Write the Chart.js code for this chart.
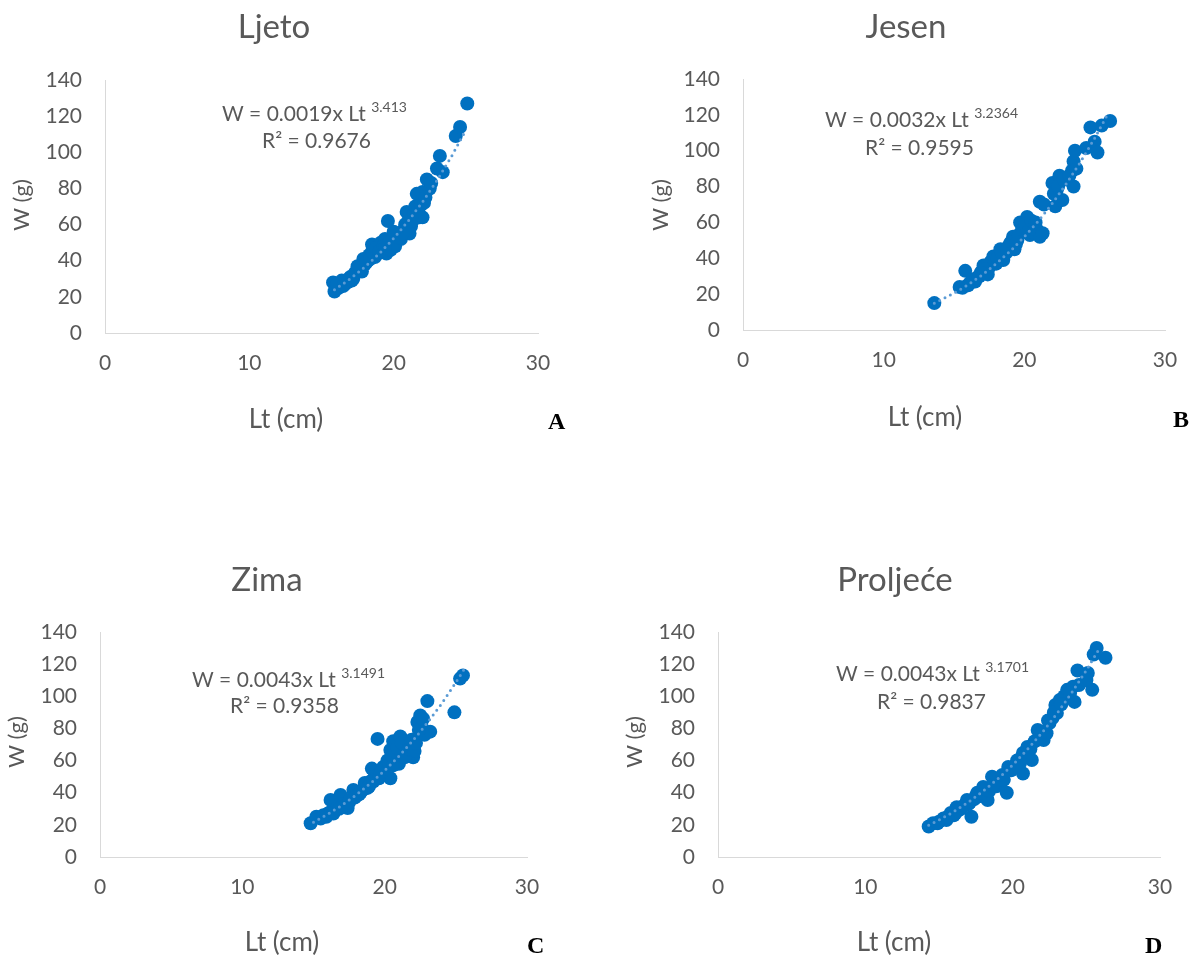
<!DOCTYPE html>
<html>
<head>
<meta charset="utf-8">
<script src="https://cdn.jsdelivr.net/npm/chart.js@4.4.1/dist/chart.umd.min.js"></script>
<style>
  html, body { margin: 0; padding: 0; background: #fff; }
  body { width: 1199px; height: 961px; position: relative; overflow: hidden; }
  canvas { position: absolute; }
  .lbl { position: absolute; font-family: "Liberation Serif", "DejaVu Serif", serif; font-weight: bold; font-size: 24px; color: #000; }
</style>
</head>
<body>
<canvas id="cA" width="600" height="470" style="left:0;top:0"></canvas>
<canvas id="cB" width="599" height="470" style="left:600px;top:0"></canvas>
<canvas id="cC" width="600" height="481" style="left:0;top:480px"></canvas>
<canvas id="cD" width="599" height="481" style="left:600px;top:480px"></canvas>
<div class="lbl" style="left:548px;top:408px">A</div>
<div class="lbl" style="left:1173px;top:406px">B</div>
<div class="lbl" style="left:527px;top:932px">C</div>
<div class="lbl" style="left:1145px;top:932px">D</div>
<script>
// ---- data ----
const panelTitles = ["Ljeto", "Jesen", "Zima", "Proljeće"];
const xAxisTitle = "Lt (cm)";
const yAxisTitle = "W (g)";
const xTickValues = [0, 10, 20, 30];
const yTickValues = [0, 20, 40, 60, 80, 100, 120, 140];

const ljetoLt = [15.8,15.9,16.0,16.2,16.4,16.6,16.8,17.0,17.2,17.3,17.5,17.6,17.8,17.9,18.0,18.2,18.3,18.5,18.5,18.7,18.9,19.1,19.2,19.4,19.5,19.6,19.8,19.9,20.0,20.2,20.4,20.5,20.7,20.8,20.9,21.0,21.1,21.2,21.4,21.5,21.6,21.8,22.0,22.0,22.1,22.3,22.5,23.0,23.2,23.4,24.3,24.6,25.1,
  16.1,16.5,16.9,17.1,17.4,17.7,18.1,18.4,18.6,18.8,19.0,19.3,19.7,20.1,20.3,20.6,20.9,21.3,21.7,21.9,22.2,22.6,20.0,19.4];
const ljetoW  = [28,23,26,25,29,27,28,31,30,33,37,35,34,41,38,40,43,49,45,42,44,50,46,52,44,62,46,49,53,51,55,52,57,60,67,62,55,59,66,70,77,64,64,78,72,85,80,91,98,89,109,114,127,
  27,26,30,29,34,36,39,41,44,47,45,48,50,48,53,55,58,62,68,71,75,83,56,47];
const ljetoTrendLt = [15.9,17,18,19,20,21,22,23,24,25];
const ljetoTrendW  = [23.9,30.1,36.5,43.9,52.4,61.9,72.5,84.4,97.6,112.2];

const jesenLt = [13.6,15.4,15.6,15.8,16.1,16.3,16.5,16.8,17.0,17.1,17.3,17.5,17.6,17.8,18.0,18.2,18.3,18.5,18.7,18.9,19.0,19.2,19.3,19.5,19.7,19.8,20.0,20.2,20.4,20.6,20.9,21.1,21.1,21.4,22.0,22.2,22.3,22.5,22.7,23.0,23.4,23.5,23.5,23.6,24.4,24.7,25.0,25.2,25.5,26.1,
  16.0,16.6,17.2,17.4,17.9,18.1,18.4,18.8,19.1,19.4,19.6,19.9,20.1,20.3,20.5,20.8,22.1,22.4,22.8,23.2,23.7,21.3,16.9];
const jesenW  = [15,24,23.5,33,26,28,27,30,33,36,32,35,38,41,37,42,45,39,43,47,48.5,52,45,50,60,55,57,63,53,58,56,52,71.5,70,82,69,78,86,72.5,84,89,94,80,100,101.5,113,105,99,114,116.6,
  25,29,34,31,38,40,43,45,49,48,53,56,59,55,61,60,76,80,84,86,90,54,32];
const jesenTrendLt = [13.6,15,16,17,18,19,20,21,22,23,24,25,25.9];
const jesenTrendW  = [14.9,20.5,25.2,30.7,37.0,44.0,52.0,60.8,70.7,81.8,93.8,107.0,120.0];

const zimaLt = [14.8,15.2,15.5,15.7,16.0,16.2,16.2,16.5,16.7,16.9,17.1,17.4,17.6,17.8,18.0,18.3,18.6,18.8,19.0,19.1,19.3,19.5,19.7,19.9,20.2,20.4,20.4,20.6,20.8,21.0,21.1,21.3,21.5,21.6,21.8,22.0,22.3,22.5,22.6,22.8,23.0,23.2,24.9,25.3,25.5,
  15.9,16.4,16.8,17.2,17.5,17.9,18.2,18.5,18.9,19.2,19.6,19.8,20.0,20.3,20.5,20.7,20.9,21.2,21.4,21.7,21.9,22.1,22.4,22.7,22.2,20.6];
const zimaW  = [21,25,24,26,27,28,35.5,29,31,38.6,33,30.5,36,41.7,38,40,46,43,47,55,50,73.5,52,56,60,49,66.6,72,62,58,75,68,64,65,70,62,84,88,81,76,97,78,90,111,113,
  25,27,30,32,34,37,39,42,44,47,49,53,55,58,63,66,68,71,62,67,73,66,79,86,71,57];
const zimaTrendLt = [15,16,17,18,19,20,21,22,23,24,25,25.6];
const zimaTrendW  = [21.7,26.6,32.2,38.6,45.8,53.8,62.7,72.6,83.5,95.4,108.6,117.0];

const proljeceLt = [14.3,14.6,15.0,15.3,15.5,15.8,16.0,16.2,16.5,16.9,17.0,17.2,17.4,17.6,17.8,18.0,18.3,18.4,18.6,18.9,19.1,19.4,19.6,19.7,20.0,20.3,20.5,20.7,20.7,21.0,21.3,21.5,21.7,22.1,22.3,22.5,22.7,22.9,23.0,23.2,23.5,23.7,24.1,24.2,24.4,25.1,25.4,25.5,25.7,26.3,
  14.9,15.6,16.1,16.3,16.7,17.1,17.5,17.9,18.2,18.7,19.0,19.3,19.9,20.2,20.9,21.2,21.8,22.0,22.4,22.8,23.3,23.9,24.5,25.0,20.5];
const proljeceW  = [19,21,22,24,23,27.4,26,31,30,35.5,33,25,36,40,38,43.6,35.5,41,50,44,46,48,40,56,55,60,58.5,64.7,52,68.5,60.4,72,79,72.8,77,83.4,86.5,94.6,89.6,97.7,100,104,106,96.5,116,114.5,104,126,130,124,
  21,25,27,29,32,34,38,40,42,45,48,51,54,57,62,67,74,78,85,90,95,102,107,110,61];
const proljeceTrendLt = [14.3,15,16,17,18,19,20,21,22,23,24,25,25.8];
const proljeceTrendW  = [19.8,23.0,28.2,34.2,41.0,48.7,57.3,66.9,77.4,89.2,102.1,116.2,128.4];

const eqCoef = ["0.0019", "0.0032", "0.0043", "0.0043"];
const eqExp  = ["3.413", "3.2364", "3.1491", "3.1701"];
const eqR2   = ["0.9676", "0.9595", "0.9358", "0.9837"];

// ---- layout / style ----
const FONT = 'Lato, "Open Sans", sans-serif';
const GREY = '#595959';
const panels = [
  { id:'cA', lt:ljetoLt, w:ljetoW, tlt:ljetoTrendLt, tw:ljetoTrendW,
    area:{left:105, right:538, top:80, bottom:333}, W:600, H:470,
    title:[274,27], ytitle:[22,205], xtitle:[286,420], eq1:[222,114], eq2:[262,141] },
  { id:'cB', lt:jesenLt, w:jesenW, tlt:jesenTrendLt, tw:jesenTrendW,
    area:{left:143, right:565, top:79, bottom:330}, W:599, H:470,
    title:[306,27], ytitle:[61,205], xtitle:[325,418], eq1:[225,120], eq2:[265,148] },
  { id:'cC', lt:zimaLt, w:zimaW, tlt:zimaTrendLt, tw:zimaTrendW,
    area:{left:100, right:527, top:152, bottom:377}, W:600, H:481,
    title:[267,100], ytitle:[17,262], xtitle:[282,463], eq1:[192,200], eq2:[230,226] },
  { id:'cD', lt:proljeceLt, w:proljeceW, tlt:proljeceTrendLt, tw:proljeceTrendW,
    area:{left:118, right:560, top:152, bottom:377}, W:599, H:481,
    title:[295,100], ytitle:[35,262], xtitle:[294,463], eq1:[236,194], eq2:[277,222] }
];

const textPlugin = {
  id: 'panelText',
  afterDraw(chart, args, opts) {
    const c = chart.ctx;
    c.save();
    c.fillStyle = GREY;
    c.textBaseline = 'middle';
    // title
    c.font = '33px ' + FONT;
    c.textAlign = 'center';
    c.fillText(opts.title, opts.p.title[0], opts.p.title[1]);
    // x title
    c.font = '26px ' + FONT;
    c.fillText(xAxisTitle, opts.p.xtitle[0], opts.p.xtitle[1]);
    // y title
    c.font = '22px ' + FONT;
    c.save();
    c.translate(opts.p.ytitle[0], opts.p.ytitle[1]);
    c.rotate(-Math.PI / 2);
    c.fillText(yAxisTitle, 0, 0);
    c.restore();
    // equation
    c.textAlign = 'left';
    c.font = '21px ' + FONT;
    const pre = 'W = ' + opts.coef + 'x Lt ';
    c.fillText(pre, opts.p.eq1[0], opts.p.eq1[1]);
    const wPre = c.measureText(pre).width;
    c.font = '14px ' + FONT;
    c.fillText(opts.exp, opts.p.eq1[0] + wPre, opts.p.eq1[1] - 7);
    c.font = '21px ' + FONT;
    c.fillText('R\u00B2 = ' + opts.r2, opts.p.eq2[0], opts.p.eq2[1]);
    c.restore();
  }
};

panels.forEach((p, i) => {
  const pts = p.lt.map((x, k) => ({ x: x, y: p.w[k] }));
  const trend = p.tlt.map((x, k) => ({ x: x, y: p.tw[k] }));
  new Chart(document.getElementById(p.id), {
    type: 'scatter',
    data: {
      datasets: [
        { data: trend, showLine: true, pointRadius: 0, borderColor: '#5B9BD5',
          borderWidth: 3, borderDash: [0, 6], borderCapStyle: 'round', fill: false, order: 0 },
        { data: pts, pointRadius: 7, pointBackgroundColor: '#0070C0', pointBorderColor: '#0070C0',
          pointBorderWidth: 0, order: 1 }
      ]
    },
    options: {
      responsive: false, animation: false, devicePixelRatio: 1,
      layout: { padding: { left: 0, top: p.area.top, right: p.W - p.area.right, bottom: 0 } },
      plugins: {
        legend: { display: false }, tooltip: { enabled: false },
        panelText: { title: panelTitles[i], p: p, coef: eqCoef[i], exp: eqExp[i], r2: eqR2[i] }
      },
      scales: {
        x: {
          type: 'linear', min: 0, max: 30,
          afterBuildTicks: s => { s.ticks = xTickValues.map(v => ({ value: v })); },
          afterFit: s => { s.height = p.H - p.area.bottom; },
          grid: { display: false },
          border: { display: true, color: '#D9D9D9', width: 1 },
          ticks: { padding: 10, color: GREY, font: { family: FONT, size: 21 }, maxRotation: 0 }
        },
        y: {
          type: 'linear', min: 0, max: 140,
          afterBuildTicks: s => { s.ticks = yTickValues.map(v => ({ value: v })); },
          afterFit: s => { s.width = p.area.left; },
          grid: { display: false },
          border: { display: true, color: '#D9D9D9', width: 1 },
          ticks: { padding: 15, color: GREY, font: { family: FONT, size: 21 } }
        }
      }
    },
    plugins: [textPlugin]
  });
});
</script>
</body>
</html>
